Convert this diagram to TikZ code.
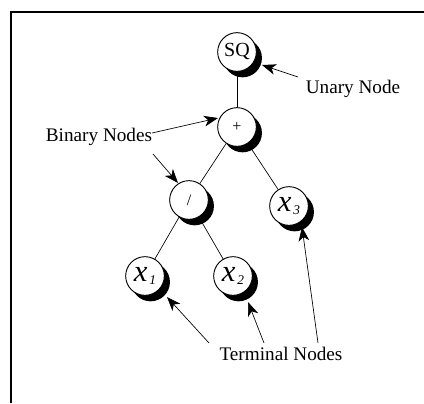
\documentclass[tikz,border=0pt]{standalone}
\usepackage{fontspec}
\setmainfont{Liberation Serif}
\usetikzlibrary{arrows.meta,shadows}
\pgfdeclarelayer{bg}
\pgfsetlayers{bg,main}
\begin{document}
\begin{tikzpicture}[x=0.75pt,y=-0.75pt,
  tnode/.style={circle,draw,fill=white,minimum size=29pt,inner sep=0pt,line width=0.7pt,
    drop shadow={shadow xshift=4.2pt,shadow yshift=-4.5pt,opacity=1,fill=black}},
  edge/.style={line width=0.5pt},
  lbl/.style={font=\fontsize{14.4}{16}\selectfont,inner sep=1pt},
  ptr/.style={line width=0.5pt,-{Stealth[length=10.5pt,width=8pt,inset=3pt]}},
  frame/.style={line width=1.6pt}]
\useasboundingbox (0,0) rectangle (424,403);
\draw[frame] (11,403) -- (11,12) -- (424,12);
\newcommand\xsub[1]{{\fontsize{23}{23}\selectfont\itshape x}\kern1.5pt\raisebox{-2pt}{\fontsize{10}{10}\selectfont\itshape #1}}
\node[tnode,font=\fontsize{15}{16}\selectfont] (sq) at (237,52) {SQ};
\node[tnode,font=\fontsize{12}{12}\selectfont] (plus) at (237,127) {+};
\node[tnode,font=\fontsize{12}{12}\selectfont] (div) at (189,200) {/};
\node[tnode] (x3) at (289,206) {\xsub{3}};
\node[tnode] (x1) at (145,276) {\xsub{1}};
\node[tnode] (x2) at (233,276) {\xsub{2}};
\begin{pgfonlayer}{bg}
\draw[edge] (sq) -- (plus);
\draw[edge] (plus) -- (div);
\draw[edge] (plus) -- (x3);
\draw[edge] (div) -- (x1);
\draw[edge] (div) -- (x2);
\end{pgfonlayer}
\node[lbl] (un) at (353,89) {Unary Node};
\node[lbl] (bn) at (99,137) {Binary Nodes};
\node[lbl] (tn) at (281,354) {Terminal Nodes};
\coordinate (u0) at (298,77);
\coordinate (u1) at (262,65);
\draw[ptr] (u0) -- (u1);
\coordinate (b0) at (152,133);
\coordinate (b1) at (218,118);
\draw[ptr] (b0) -- (b1);
\coordinate (b2) at (153,154);
\coordinate (b3) at (178,183);
\draw[ptr] (b2) -- (b3);
\coordinate (t0) at (209,343);
\coordinate (t1) at (167,297);
\draw[ptr] (t0) -- (t1);
\coordinate (t2) at (264,343);
\coordinate (t3) at (248,302);
\draw[ptr] (t2) -- (t3);
\coordinate (t4) at (318,343);
\coordinate (t5) at (302,227);
\draw[ptr] (t4) -- (t5);
\end{tikzpicture}
\end{document}
